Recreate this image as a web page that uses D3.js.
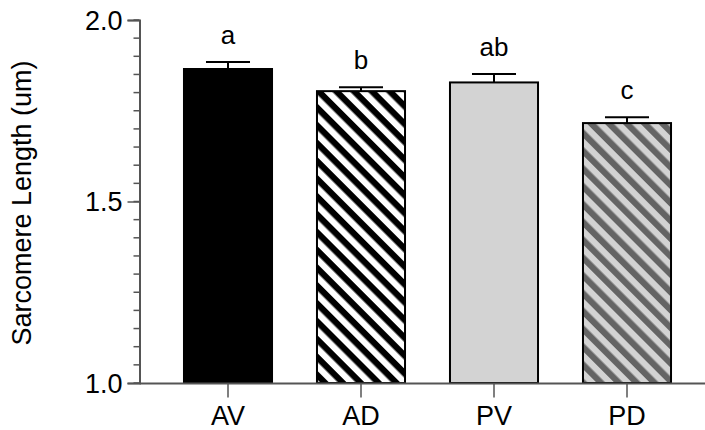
<!DOCTYPE html>
<html>
<head>
<meta charset="utf-8">
<script src="https://cdn.jsdelivr.net/npm/d3@7"></script>
<style>
  html, body { margin: 0; padding: 0; background: #fff; }
  text { font-family: "Liberation Sans", Arial, sans-serif; fill: #000; }
</style>
</head>
<body>
<svg id="chart" width="705" height="430"></svg>
<script>
// Sarcomere length by group (mean with SEM)
const categories = ["AV", "AD", "PV", "PD"];
const means = [1.865, 1.804, 1.828, 1.716];
const sems = [0.019, 0.011, 0.023, 0.016];
const letters = ["a", "b", "ab", "c"];
const majorTicks = [1.0, 1.5, 2.0];
const minorTicks = d3.range(1.0, 2.0001, 0.05);

const svg = d3.select("#chart");

const y = d3.scaleLinear().domain([1.0, 2.0]).range([383, 20]);
const x = d3.scaleBand()
  .domain(categories)
  .range([161.5, 693.5])
  .paddingInner(0.338)
  .paddingOuter(0.169);

// Fill patterns for the four groups
const defs = svg.append("defs");
function stripes(id, bg, fg) {
  const p = defs.append("pattern")
    .attr("id", id)
    .attr("patternUnits", "userSpaceOnUse")
    .attr("width", 12.6)
    .attr("height", 12.6)
    .attr("patternTransform", "rotate(-45)");
  p.append("rect").attr("width", 12.6).attr("height", 12.6).attr("fill", bg);
  p.append("rect").attr("width", 6.3).attr("height", 12.6).attr("fill", fg);
}
stripes("stripeAD", "#000000", "#ffffff");
stripes("stripePD", "#d3d3d3", "#646464");
const fills = ["#000000", "url(#stripeAD)", "#d3d3d3", "url(#stripePD)"];

const data = categories.map((c, i) => ({ c, m: means[i], e: sems[i], l: letters[i], f: fills[i] }));

// Bars
svg.append("g").selectAll("rect")
  .data(data)
  .join("rect")
  .attr("x", d => x(d.c))
  .attr("y", d => y(d.m))
  .attr("width", x.bandwidth())
  .attr("height", d => y(1.0) - y(d.m))
  .attr("fill", d => d.f)
  .attr("stroke", "#000")
  .attr("stroke-width", 2);

// Error bars (upper only)
const err = svg.append("g").attr("stroke", "#000").attr("stroke-width", 2);
err.selectAll("line.v")
  .data(data)
  .join("line")
  .attr("class", "v")
  .attr("x1", d => x(d.c) + x.bandwidth() / 2)
  .attr("x2", d => x(d.c) + x.bandwidth() / 2)
  .attr("y1", d => y(d.m))
  .attr("y2", d => y(d.m + d.e));
err.selectAll("line.cap")
  .data(data)
  .join("line")
  .attr("class", "cap")
  .attr("x1", d => x(d.c) + x.bandwidth() / 4)
  .attr("x2", d => x(d.c) + x.bandwidth() * 3 / 4)
  .attr("y1", d => y(d.m + d.e))
  .attr("y2", d => y(d.m + d.e));

// Significance letters
svg.append("g").selectAll("text")
  .data(data)
  .join("text")
  .attr("x", d => x(d.c) + x.bandwidth() / 2)
  .attr("y", d => y(d.m + d.e) - 18)
  .attr("text-anchor", "middle")
  .attr("font-size", 26)
  .text(d => d.l);

// Y axis
const yAxis = svg.append("g").attr("transform", "translate(139.5,0)");
yAxis.call(d3.axisLeft(y).tickValues(majorTicks).tickFormat(d3.format(".1f")).tickSize(12).tickPadding(5))
  .call(g => g.select(".domain").attr("stroke", "#555").attr("stroke-width", 2))
  .call(g => g.selectAll(".tick line").attr("stroke", "#555").attr("stroke-width", 1.5))
  .call(g => g.selectAll(".tick text").attr("font-size", 27).attr("dy", "0.35em")
    .style("font-family", "'Liberation Sans', Arial, sans-serif").attr("fill", "#000"));
yAxis.append("g").selectAll("line")
  .data(minorTicks)
  .join("line")
  .attr("x1", -6).attr("x2", 0)
  .attr("y1", d => y(d)).attr("y2", d => y(d))
  .attr("stroke", "#555").attr("stroke-width", 1.5);

// X axis
const xAxis = svg.append("g").attr("transform", "translate(0,383.5)");
xAxis.call(d3.axisBottom(x).tickSize(14).tickPadding(8).tickSizeOuter(0))
  .call(g => g.select(".domain").remove())
  .call(g => g.selectAll(".tick line").attr("stroke", "#555").attr("stroke-width", 1.5))
  .call(g => g.selectAll(".tick text").attr("font-size", 27)
    .style("font-family", "'Liberation Sans', Arial, sans-serif").attr("fill", "#000"));
xAxis.append("line")
  .attr("x1", 139.5).attr("x2", 705)
  .attr("stroke", "#555").attr("stroke-width", 2);

// Y axis title
svg.append("text")
  .attr("transform", "translate(31,203) rotate(-90)")
  .attr("text-anchor", "middle")
  .attr("font-size", 27)
  .text("Sarcomere Length (um)");
</script>
</body>
</html>
